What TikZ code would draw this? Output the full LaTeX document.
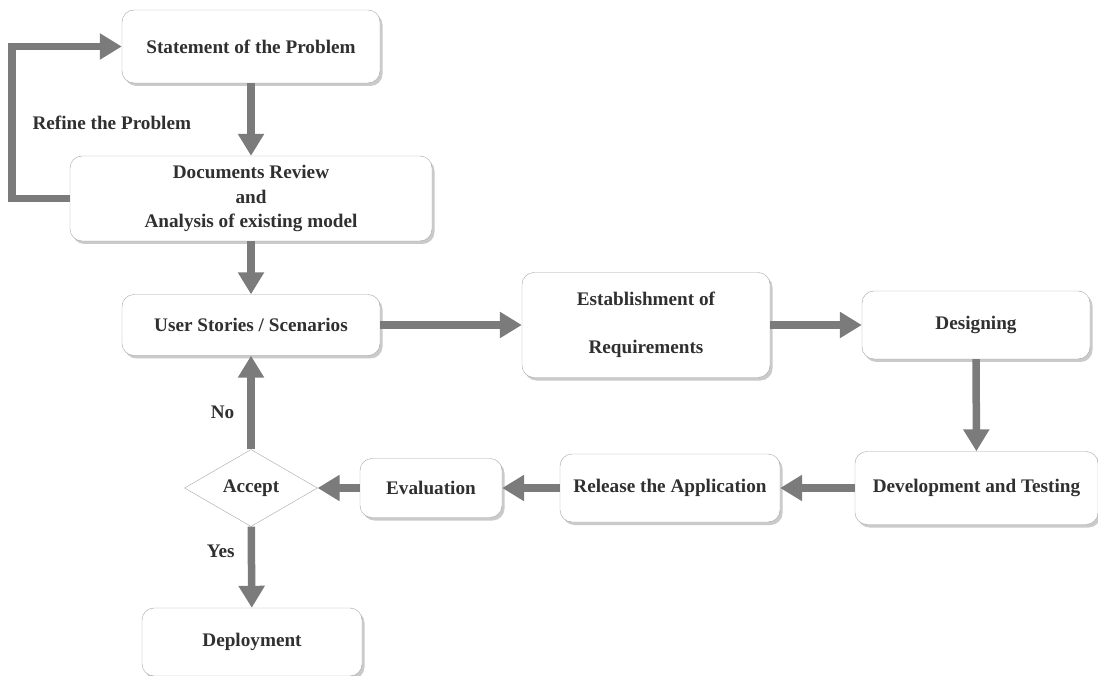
\documentclass[tikz,border=0pt]{standalone}
\usepackage{fontspec}
\setmainfont{Liberation Serif}
\usetikzlibrary{arrows.meta,positioning,shapes.geometric,shadows}
\definecolor{arrowgray}{HTML}{7B7B7B}
\definecolor{boxline}{HTML}{A6A6A6}
\definecolor{textgray}{HTML}{303030}

\begin{document}
\begin{tikzpicture}[x=1pt,y=-1pt,every node/.style={font=\fontsize{19.2}{24.5}\selectfont\bfseries,text=textgray,align=center,inner sep=0pt},
box/.style={draw=boxline,thin,rounded corners=12pt,fill=white,drop shadow={shadow xshift=2.5pt,shadow yshift=-3pt,fill=black!60,opacity=.35}},
flow/.style={-{Triangle[length=22pt,width=25pt]},line width=7.5pt,draw=arrowgray}]
\clip (0,0) rectangle (1098,676);
\node[box,minimum width=258pt,minimum height=73pt] (stmt) at (251,46.5) {Statement of the Problem};
\node[box,minimum width=362pt,minimum height=85pt] (docs) at (251,198.5) {Documents Review\\and\\Analysis of existing model};
\node[box,minimum width=258pt,minimum height=61pt] (stories) at (251,325) {User Stories / Scenarios};
\node[box,minimum width=248pt,minimum height=105pt] (reqs) at (646,325) {Establishment of\\[24pt]Requirements};
\node[box,minimum width=228pt,minimum height=68pt] (design) at (976,325) {Designing};
\node[box,minimum width=243pt,minimum height=73pt] (devtest) at (976.5,488) {Development and Testing};
\node[box,minimum width=220pt,minimum height=68pt] (release) at (670,488) {Release the Application};
\node[box,minimum width=142pt,minimum height=59pt] (eval) at (431,488) {Evaluation};
\node[draw=boxline,thin,diamond,fill=white,minimum width=133pt,minimum height=77pt] (accept) at (251,488) {Accept};
\node[box,minimum width=220pt,minimum height=68pt] (deploy) at (252,642) {Deployment};
\draw[flow] (stmt) -- (docs);
\draw[flow] (docs.west) -- ++(-58,0) |- node[pos=0.25,right=17pt]{Refine the Problem} (stmt.west);
\draw[flow] (docs) -- (stories);
\draw[flow] (stories) -- (reqs);
\draw[flow] (reqs) -- (design);
\draw[flow] (design) -- (devtest);
\draw[flow] (devtest) -- (release);
\draw[flow] (release) -- (eval);
\draw[flow] (eval) -- (accept);
\draw[flow] (accept) -- node[pos=0.4,left=13pt]{No} (stories);
\draw[flow] (accept) -- node[pos=0.3,left=13pt]{Yes} (deploy);
\end{tikzpicture}
\end{document}
